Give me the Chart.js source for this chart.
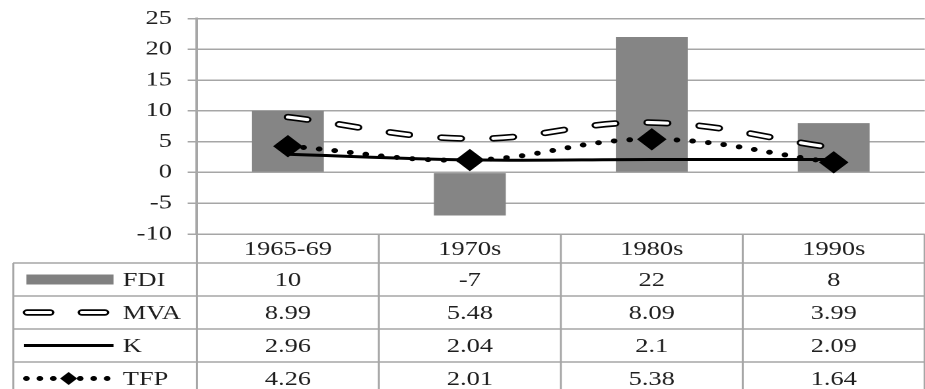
<!DOCTYPE html>
<html>
<head>
<meta charset="utf-8">
<script src="https://cdn.jsdelivr.net/npm/chart.js@4.4.1/dist/chart.umd.min.js"></script>
<style>
    html, body { margin: 0; padding: 0; overflow: hidden; background: #fff; }
    /* the reference is stretched sideways, so the whole chart is widened */
    #wrap { width: 712px; height: 400px; transform: scaleX(1.32); transform-origin: 0 0; }
</style>
</head>
<body>
<div id="wrap"><canvas id="chart"></canvas></div>
<script>
const periods = ["1965-69", "1970s", "1980s", "1990s"];
const fdi = [10, -7, 22, 8];
const mva = [8.99, 5.48, 8.09, 3.99];
const capital = [2.96, 2.04, 2.1, 2.09];
const tfp = [4.26, 2.01, 5.38, 1.64];
const yTicks = [-10, -5, 0, 5, 10, 15, 20, 25];

const gridColor = "#a6a6a6";
const textColor = "#1f1f1f";
const serif = "Liberation Serif";

const rowNames = ["FDI", "MVA", "K", "TFP"];
const rowValues = [fdi, mva, capital, tfp];

function line(ctx, x1, y1, x2, y2) {
    ctx.beginPath();
    ctx.moveTo(x1, y1);
    ctx.lineTo(x2, y2);
    ctx.stroke();
}

function diamond(ctx, x, y, r) {
    ctx.beginPath();
    ctx.moveTo(x - r, y);
    ctx.lineTo(x, y - r);
    ctx.lineTo(x + r, y);
    ctx.lineTo(x, y + r);
    ctx.closePath();
    ctx.fill();
}

// data table under the plot, legend keys in the first column
const dataTable = {
    id: "dataTable",
    afterDraw(chart) {
        const ctx = chart.ctx;
        const area = chart.chartArea;
        const n = periods.length;
        const colW = (area.right - area.left) / n;
        const tableLeft = 10;
        const rowTop = 263;
        const rowH = 33;
        const bottom = rowTop + rowH * rowNames.length;
        const right = area.right;

        ctx.save();
        ctx.strokeStyle = gridColor;
        ctx.lineWidth = 1.5;
        for (let i = 0; i <= rowNames.length; i++) {
            line(ctx, tableLeft, rowTop + i * rowH, right, rowTop + i * rowH);
        }
        line(ctx, tableLeft, rowTop, tableLeft, bottom);
        for (let i = 0; i <= n; i++) {
            const bx = area.left + i * colW;
            line(ctx, bx, area.bottom, bx, bottom);
        }

        ctx.fillStyle = textColor;
        ctx.font = "20px '" + serif + "'";
        ctx.textAlign = "center";
        ctx.textBaseline = "middle";
        const xScale = chart.scales.x;
        periods.forEach((p, i) => {
            const cx = xScale.getPixelForValue(i);
            ctx.fillText(p, cx, (area.bottom + rowTop) / 2 + 1);
            rowValues.forEach((vals, r) => {
                ctx.fillText(String(vals[i]), cx, rowTop + r * rowH + rowH / 2 + 1);
            });
        });

        ctx.textAlign = "left";
        rowNames.forEach((name, r) => {
            ctx.fillText(name, 93, rowTop + r * rowH + rowH / 2 + 1);
        });

        // legend keys
        let cy = rowTop + rowH / 2;
        ctx.fillStyle = "#808080";
        ctx.fillRect(20, cy - 5, 66, 10);

        cy += rowH;
        ctx.lineCap = "round";
        [[20.5, 38], [62, 79.5]].forEach(seg => {
            ctx.strokeStyle = "#000";
            ctx.lineWidth = 6.5;
            line(ctx, seg[0], cy, seg[1], cy);
            ctx.strokeStyle = "#fff";
            ctx.lineWidth = 3;
            line(ctx, seg[0], cy, seg[1], cy);
        });

        cy += rowH;
        ctx.lineCap = "butt";
        ctx.strokeStyle = "#000";
        ctx.lineWidth = 3;
        line(ctx, 18, cy, 86, cy);

        cy += rowH;
        ctx.lineCap = "round";
        ctx.lineWidth = 5;
        ctx.setLineDash([0, 10.2]);
        line(ctx, 20, cy, 82, cy);
        ctx.setLineDash([]);
        ctx.fillStyle = "#000";
        diamond(ctx, 52, cy, 6.5);
        ctx.restore();
    }
};

const data = {
    labels: periods,
    datasets: [
        {
            type: "line",
            label: "TFP",
            data: tfp,
            order: 0,
            borderColor: "#000",
            borderWidth: 5,
            borderDash: [0, 11.9],
            borderCapStyle: "round",
            tension: 0.4,
            pointStyle: "rectRot",
            pointRadius: 10.5,
            pointBackgroundColor: "#000",
            pointBorderColor: "#000",
            pointBorderWidth: 1
        },
        {
            type: "line",
            label: "K",
            data: capital,
            order: 1,
            borderColor: "#000",
            borderWidth: 3,
            tension: 0.4,
            pointRadius: 0
        },
        {
            // white core of the hollow MVA dashes
            type: "line",
            label: "MVA inner",
            data: mva,
            order: 2,
            borderColor: "#fff",
            borderWidth: 3.2,
            borderDash: [14.7, 24.7],
            borderCapStyle: "round",
            tension: 0.4,
            pointRadius: 0
        },
        {
            type: "line",
            label: "MVA",
            data: mva,
            order: 3,
            borderColor: "#000",
            borderWidth: 6.5,
            borderDash: [14.7, 24.7],
            borderCapStyle: "round",
            tension: 0.4,
            pointRadius: 0
        },
        {
            type: "bar",
            label: "FDI",
            data: fdi,
            order: 4,
            backgroundColor: "#858585",
            categoryPercentage: 1,
            barPercentage: 0.395
        }
    ]
};

const config = {
    type: "bar",
    data: data,
    plugins: [dataTable],
    options: {
        responsive: true,
        maintainAspectRatio: false,
        animation: false,
        events: [],
        devicePixelRatio: 2,
        layout: {
            padding: { left: 0, top: 18.5, right: 4.4, bottom: 166 }
        },
        plugins: {
            legend: { display: false },
            tooltip: { enabled: false }
        },
        scales: {
            x: {
                display: false
            },
            y: {
                min: yTicks[0],
                max: yTicks[yTicks.length - 1],
                afterFit: (scale) => {
                    scale.width = 149.2;
                    scale.paddingTop = 0;
                    scale.paddingBottom = 0;
                },
                afterBuildTicks: (scale) => {
                    scale.ticks = yTicks.map(v => ({ value: v }));
                },
                ticks: {
                    padding: 12,
                    color: textColor,
                    font: { family: serif, size: 20 }
                },
                grid: {
                    color: gridColor,
                    lineWidth: 1.5,
                    tickLength: 7
                },
                border: {
                    color: gridColor,
                    width: 2
                }
            }
        }
    }
};

new Chart(document.getElementById("chart").getContext("2d"), config);
</script>
</body>
</html>
